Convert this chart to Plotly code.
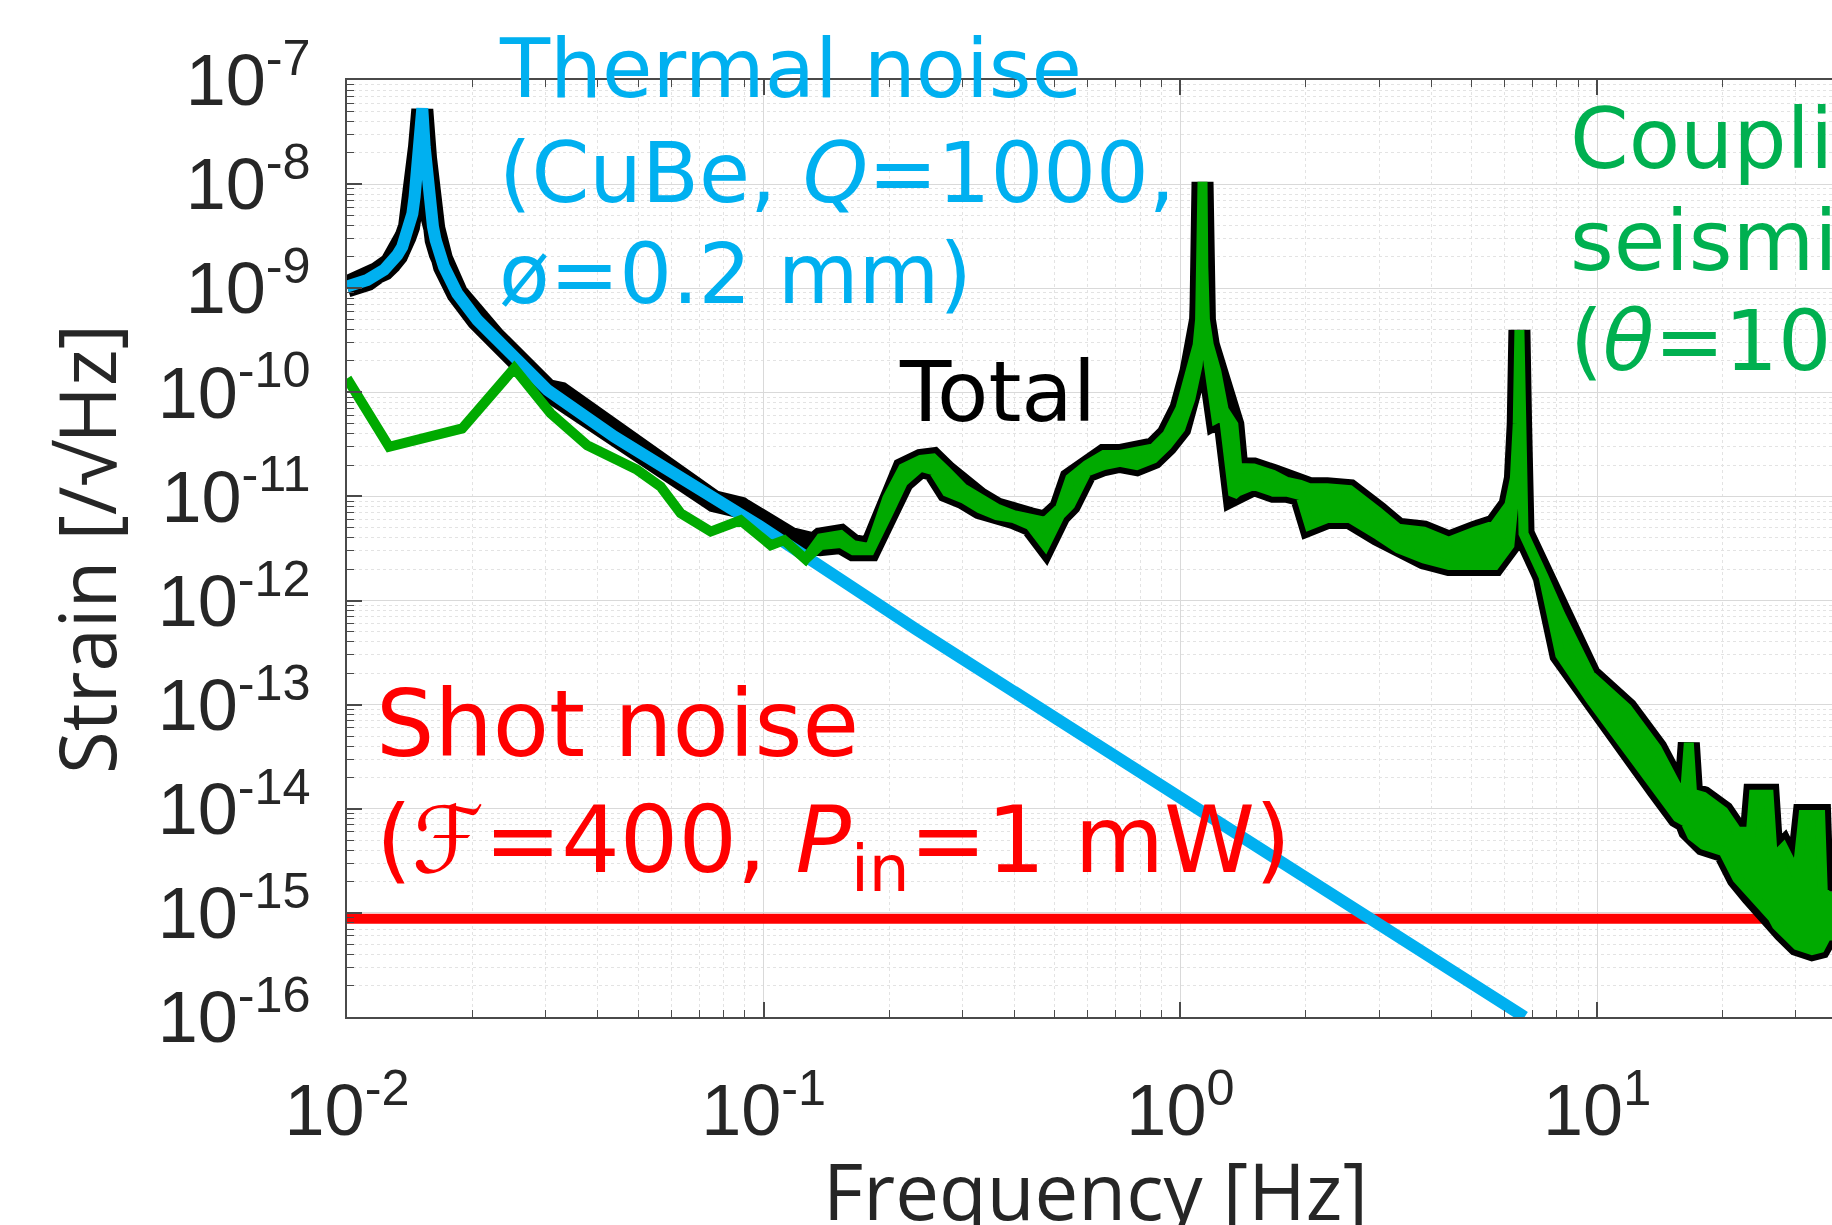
import plotly.graph_objects as go

# ---------------- data ----------------
# Thermal noise (CuBe, Q=1000)
th_f = [0.0100, 0.01119, 0.01227, 0.01272, 0.01320, 0.01357, 0.01382, 0.01409, 0.01435,
        0.01453, 0.01466, 0.01477, 0.01489, 0.01516, 0.01536, 0.01547, 0.01558, 0.01573,
        0.01587, 0.01608, 0.01632, 0.01668, 0.01709, 0.01839, 0.02055, 0.02254, 0.0303,
        0.0438, 0.0632, 0.100, 0.232, 1.06, 2.88, 6.70]
th_h = [1.04e-9, 1.20e-9, 1.50e-9, 1.73e-9, 2.08e-9, 2.5e-9, 3.13e-9, 3.9e-9, 5.2e-9,
        7.6e-9, 1.09e-8, 1.58e-8, 2.29e-8, 5.35e-8, 2.29e-8, 1.58e-8, 1.09e-8, 7.6e-9,
        5.2e-9, 3.9e-9, 2.9e-9, 2.16e-9, 1.61e-9, 8.9e-10, 4.95e-10, 3.42e-10, 1.05e-10,
        3.75e-11, 1.55e-11, 4.9e-12, 5.3e-13, 1.12e-14, 9.1e-16, 1.0e-16]

# Coupling of seismic noise: low-frequency part (single trace)
seis_f_low = [0.0100, 0.01262, 0.0189, 0.0252, 0.0308, 0.0377, 0.0497, 0.0566, 0.0632,
              0.0746, 0.0880, 0.104, 0.112, 0.126]
seis_h_low = [1.36e-10, 3.0e-11, 4.5e-11, 1.70e-10, 6.3e-11, 3.1e-11, 1.8e-11, 1.24e-11,
              6.9e-12, 4.6e-12, 5.9e-12, 3.4e-12, 3.8e-12, 2.5e-12]

# Coupling of seismic noise: noisy band (upper / lower envelope)
band_f = [0.137, 0.153, 0.164, 0.180, 0.198, 0.216, 0.238, 0.255, 0.275, 0.301, 0.330,
          0.362, 0.398, 0.436, 0.474, 0.514, 0.544, 0.596, 0.655, 0.716, 0.786, 0.862,
          0.929, 1.000, 1.057, 1.100, 1.115, 1.125, 1.130, 1.135, 1.145, 1.170, 1.220,
          1.270, 1.340, 1.370, 1.500, 1.670, 1.800, 1.940, 2.040, 2.250, 2.550, 2.980,
          3.330, 3.840, 4.410, 5.100, 5.680, 6.160, 6.350, 6.450, 6.510, 6.570, 6.660,
          7.440, 8.160, 9.630, 11.80, 13.90, 15.60, 16.30, 16.60, 16.90, 18.00, 20.10,
          21.70, 23.40, 23.80, 25.80, 26.40, 27.00, 28.00, 30.20, 31.30, 32.80, 34.30,
          34.80, 35.60, 38.00]
band_hi = [3.96e-12, 4.26e-12, 3.41e-12, 3.19e-12, 9.6e-12, 1.86e-11, 2.24e-11, 2.32e-11,
           1.73e-11, 1.20e-11, 9.6e-12, 7.7e-12, 6.6e-12, 6.2e-12, 5.7e-12, 7.7e-12,
           1.49e-11, 2.0e-11, 2.5e-11, 2.5e-11, 2.69e-11, 2.9e-11, 3.9e-11, 7.0e-11,
           1.58e-10, 2.85e-10, 5.0e-10, 1.6e-9, 1.05e-8, 1.6e-9, 5.0e-10, 2.85e-10,
           1.58e-10, 6.8e-11, 4.9e-11, 1.88e-11, 1.86e-11, 1.61e-11, 1.38e-11, 1.29e-11,
           1.20e-11, 1.20e-11, 1.15e-11, 7.1e-12, 4.9e-12, 4.6e-12, 3.67e-12, 4.6e-12,
           5.3e-12, 8.3e-12, 1.5e-11, 5.0e-11, 3.97e-10, 5.0e-11, 4.4e-12, 1.69e-12,
           7.3e-13, 1.92e-13, 9.2e-14, 3.8e-14, 1.58e-14, 1.6e-14, 4.3e-14, 1.4e-14,
           1.30e-14, 9.4e-15, 6.0e-15, 6.0e-15, 1.36e-14, 1.36e-14, 3.3e-15, 3.6e-15,
           4.2e-15, 2.3e-15, 8.7e-15, 8.7e-15, 8.7e-15, 1.6e-15, 1.48e-15, 1.3e-15]
band_lo = [3.41e-12, 3.57e-12, 3.05e-12, 3.05e-12, 6.6e-12, 1.38e-11, 1.93e-11, 1.79e-11,
           1.11e-11, 9.6e-12, 7.7e-12, 6.6e-12, 6.2e-12, 5.3e-12, 3.41e-12, 6.6e-12,
           8.3e-12, 1.73e-11, 2.0e-11, 2.15e-11, 2.0e-11, 2.32e-11, 3.1e-11, 4.5e-11,
           8.7e-11, 1.83e-10, 3.5e-10, 1.2e-9, 1.05e-8, 1.2e-9, 3.5e-10, 1.83e-10,
           5.6e-11, 6.1e-11, 1.03e-11, 1.11e-11, 1.29e-11, 1.11e-11, 1.11e-11, 1.03e-11,
           5.3e-12, 6.2e-12, 6.2e-12, 4.26e-12, 3.17e-12, 2.54e-12, 2.19e-12, 2.19e-12,
           2.19e-12, 3.41e-12, 1.2e-11, 4.0e-11, 3.97e-10, 4.0e-11, 4.4e-12, 1.69e-12,
           3.0e-13, 1.13e-13, 3.7e-14, 1.55e-14, 8.3e-15, 7.5e-15, 6.2e-15, 5.5e-15,
           4.5e-15, 3.9e-15, 2.14e-15, 1.48e-15, 1.4e-15, 1.0e-15, 9.0e-16, 7.6e-16,
           6.6e-16, 4.9e-16, 4.8e-16, 4.4e-16, 4.6e-16, 5.1e-16, 6.1e-16, 6.0e-16]

# Total noise, low-frequency part (above the band it coincides with the seismic band)
total_f_low = [0.0100, 0.01119, 0.01227, 0.01272, 0.01320, 0.01357, 0.01382, 0.01409,
               0.01435, 0.01453, 0.01466, 0.01477, 0.01489, 0.01516, 0.01536, 0.01547,
               0.01558, 0.01573, 0.01587, 0.01608, 0.01632, 0.01668, 0.01709, 0.01839,
               0.02055, 0.02254, 0.0303, 0.0326, 0.0507, 0.0577, 0.0760, 0.0881, 0.1002,
               0.116, 0.132]
total_h_low = [1.04e-9, 1.20e-9, 1.50e-9, 1.73e-9, 2.08e-9, 2.5e-9, 3.13e-9, 3.9e-9,
               5.2e-9, 7.6e-9, 1.09e-8, 1.58e-8, 2.29e-8, 5.2e-8, 2.29e-8, 1.58e-8,
               1.09e-8, 7.6e-9, 5.2e-9, 3.9e-9, 2.9e-9, 2.16e-9, 1.61e-9, 8.9e-10,
               4.95e-10, 3.42e-10, 1.05e-10, 9.9e-11, 2.73e-11, 1.89e-11, 9.0e-12, 7.8e-12,
               5.4e-12, 4.0e-12, 3.5e-12]

# Shot noise (F=400, Pin=1 mW)
shot_f = [0.01, 40.0]
shot_h = [8.8e-16, 8.8e-16]

x_tick_vals = [0.01, 0.1, 1, 10]
x_tick_text = ["10<sup>-2</sup>", "10<sup>-1</sup>", "10<sup>0</sup>", "10<sup>1</sup>"]
y_exponents = [-16, -15, -14, -13, -12, -11, -10, -9, -8, -7]
y_tick_vals = [10.0 ** e for e in y_exponents]
y_tick_text = ["10<sup>%d</sup>" % e for e in y_exponents]

# ---------------- layout geometry (pixels) ----------------
W_PX, H_PX = 1832, 1225
L, T, R_M, B_M = 347, 80, 0, 208
PW = W_PX - L - R_M
PH = H_PX - T - B_M
DEC_X = 416.7


def px(x):
    return (x - L) / PW


def py(y):
    return (H_PX - B_M - y) / PH


x_minor = [k * 10.0 ** d for d in (-2, -1, 0, 1) for k in range(2, 10)]
y_minor = [k * 10.0 ** d for d in range(-16, -7) for k in range(2, 10)]

fig = go.Figure()

fig.add_trace(go.Scatter(x=shot_f, y=shot_h, mode="lines",
                         line=dict(color="#FF0000", width=10), hoverinfo="skip"))

tot_x = total_f_low + band_f + band_f[::-1] + total_f_low[::-1]
tot_y = total_h_low + band_hi + band_lo[::-1] + total_h_low[::-1]
fig.add_trace(go.Scatter(x=tot_x, y=tot_y, mode="lines", fill="toself",
                         fillcolor="#000000", line=dict(color="#000000", width=22),
                         hoverinfo="skip"))

fig.add_trace(go.Scatter(x=th_f, y=th_h, mode="lines",
                         line=dict(color="#00B0F0", width=12), hoverinfo="skip"))

g_x = seis_f_low + band_f + band_f[::-1] + seis_f_low[::-1]
g_y = seis_h_low + band_hi + band_lo[::-1] + seis_h_low[::-1]
fig.add_trace(go.Scatter(x=g_x, y=g_y, mode="lines", fill="toself",
                         fillcolor="#00AA00", line=dict(color="#00AA00", width=10),
                         hoverinfo="skip"))

tick_font = dict(family="Liberation Sans, Arial, sans-serif", size=72, color="#262626")

fig.update_xaxes(type="log", range=[-2, -2 + PW / DEC_X], showline=True,
                 linecolor="#4a4a4a", linewidth=2, mirror="ticks", ticks="inside",
                 ticklen=15, tickwidth=1.5, tickcolor="#4a4a4a",
                 tickmode="array", tickvals=x_tick_vals, ticktext=x_tick_text,
                 tickfont=tick_font, showgrid=True, gridcolor="#d9d9d9", gridwidth=1,
                 zeroline=False, ticklabelstandoff=30,
                 minor=dict(tickmode="array", tickvals=x_minor, ticks="inside",
                            ticklen=7, tickwidth=1.2, tickcolor="#4a4a4a",
                            showgrid=True, gridcolor="#e3e3e3", griddash="dot",
                            gridwidth=1))
fig.update_yaxes(type="log", range=[-16, -7], showline=True,
                 linecolor="#4a4a4a", linewidth=2, mirror=False, ticks="inside",
                 ticklen=15, tickwidth=1.5, tickcolor="#4a4a4a",
                 tickmode="array", tickvals=y_tick_vals, ticktext=y_tick_text,
                 tickfont=tick_font, showgrid=True, gridcolor="#d9d9d9", gridwidth=1,
                 zeroline=False, ticklabelstandoff=20,
                 minor=dict(tickmode="array", tickvals=y_minor, ticks="inside",
                            ticklen=7, tickwidth=1.2, tickcolor="#4a4a4a",
                            showgrid=True, gridcolor="#e3e3e3", griddash="dot",
                            gridwidth=1))

ann_font = "DejaVu Sans, Verdana, sans-serif"


def label(text, x_px, y_px, size, color, family=ann_font, xanchor="left", angle=0):
    fig.add_annotation(text=text, x=px(x_px), y=py(y_px), xref="paper", yref="paper",
                       xanchor=xanchor, yanchor="middle", showarrow=False,
                       textangle=angle, font=dict(family=family, size=size, color=color))


blue_t, red_t, green_t = "#00B0F0", "#FF0000", "#00B050"
label("Thermal noise", 497, 68, 82, blue_t)
label("(CuBe, <i>Q</i>=1000,", 497, 173, 83, blue_t)
label("ø=0.2 mm)", 497, 274, 83, blue_t)
label("Total", 897, 392, 84, "#000000")
label("Shot noise", 374, 724, 92, red_t)
label("(<i>ℱ</i>=400, <i>P</i><sub>in</sub>=1 mW)", 374, 846, 92, red_t)
label("Coupling from", 1568, 139, 84, green_t)
label("seismic noise", 1568, 241, 84, green_t)
label("(<i>θ</i>=10 mrad)", 1568, 341, 84, green_t)

label("Frequency [Hz]", 1095, 1190, 78, "#262626", family="Open Sans, sans-serif",
      xanchor="center")
label("Strain [/√Hz]", 86, 549, 78, "#262626", family="Open Sans, sans-serif",
      xanchor="center", angle=-90)

fig.update_layout(width=W_PX, height=H_PX, autosize=False,
                  margin=dict(l=L, r=R_M, t=T, b=B_M, pad=0),
                  paper_bgcolor="white", plot_bgcolor="white",
                  showlegend=False, hovermode=False)

fig.write_html("out.html")
